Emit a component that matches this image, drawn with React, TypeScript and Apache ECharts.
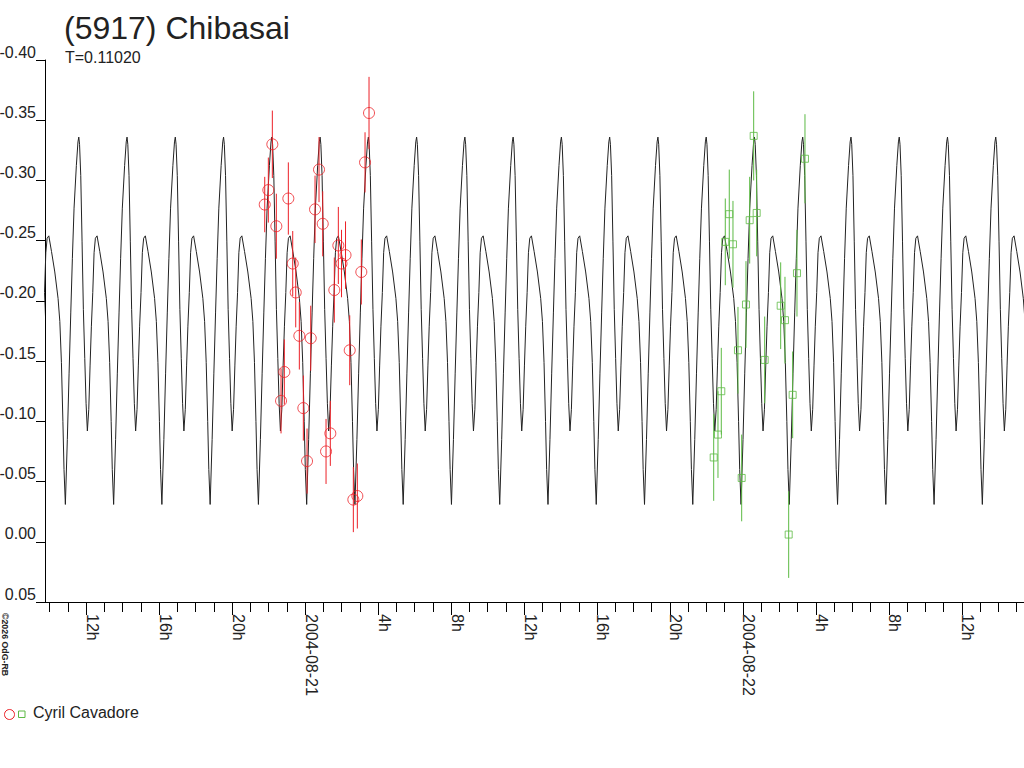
import React, { useEffect, useRef } from 'react';
import * as echarts from 'echarts';

const TITLE = '(5917) Chibasai';
const SUBTITLE = 'T=0.11020';
const OBSERVER = 'Cyril Cavadore';
const COPYRIGHT = '©2026 OdG-RB';
const DAY_LABELS: Record<number, string> = { 24: '2004-08-21', 48: '2004-08-22' };

// time axis in hours since 2004-08-20 00:00
const X_MIN = 9.75;
const X_MAX = 63.4;
const HOUR_TICKS = [10, 11, 12, 13, 14, 15, 16, 17, 18, 19, 20, 21, 22, 23, 24, 25, 26, 27, 28, 29, 30, 31, 32, 33, 34, 35, 36, 37, 38, 39, 40, 41, 42, 43, 44, 45, 46, 47, 48, 49, 50, 51, 52, 53, 54, 55, 56, 57, 58, 59, 60, 61, 62, 63];
const LABEL_HOURS = [12, 16, 20, 24, 28, 32, 36, 40, 44, 48, 52, 56, 60];

// magnitude axis (inverted)
const Y_MIN = -0.4;
const Y_MAX = 0.05;
const Y_STEP = 0.05;

// model light curve: one period
const PERIOD_H = 0.1102 * 24;
const EPOCH_H = 10.866; // a deep minimum
const SHAPE_PHASE = [0, 0.041, 0.077, 0.112, 0.145, 0.18, 0.228, 0.261, 0.278, 0.294, 0.319, 0.346, 0.373, 0.402, 0.429, 0.456, 0.485, 0.512, 0.539, 0.568, 0.595, 0.622, 0.657, 0.713, 0.781, 0.849, 0.885, 0.918, 0.949, 0.972];
const SHAPE_MAG = [-0.031, -0.085, -0.14, -0.19, -0.235, -0.277, -0.3125, -0.332, -0.336, -0.33, -0.304, -0.249, -0.193, -0.152, -0.115, -0.092, -0.11, -0.146, -0.179, -0.207, -0.24, -0.252, -0.254, -0.241, -0.224, -0.202, -0.183, -0.149, -0.1, -0.06];

// session 1 (red circles)
const RED_T = [21.792, 21.989, 22.208, 22.427, 22.685, 22.866, 23.085, 23.326, 23.49, 23.688, 23.907, 24.11, 24.312, 24.548, 24.767, 24.97, 25.151, 25.386, 25.605, 25.825, 26.0, 26.219, 26.449, 26.647, 26.866, 27.085, 27.288, 27.507];
const RED_MAG = [-0.28, -0.292, -0.33, -0.262, -0.117, -0.141, -0.285, -0.231, -0.207, -0.171, -0.111, -0.067, -0.169, -0.276, -0.309, -0.264, -0.075, -0.09, -0.209, -0.246, -0.231, -0.238, -0.159, -0.035, -0.038, -0.224, -0.315, -0.356];
const RED_ERR = [0.023, 0.027, 0.028, 0.027, 0.027, 0.027, 0.03, 0.027, 0.029, 0.028, 0.027, 0.027, 0.027, 0.028, 0.027, 0.027, 0.027, 0.027, 0.027, 0.032, 0.028, 0.028, 0.029, 0.027, 0.027, 0.027, 0.025, 0.03];

// session 2 (green squares)
const GREEN_T = [46.395, 46.63, 46.811, 47.03, 47.249, 47.452, 47.726, 47.929, 48.164, 48.367, 48.586, 48.751, 49.189, 50.066, 50.301, 50.504, 50.723, 50.959, 51.397];
const GREEN_MAG = [-0.07, -0.089, -0.125, -0.249, -0.272, -0.247, -0.159, -0.053, -0.197, -0.267, -0.337, -0.273, -0.151, -0.196, -0.184, -0.006, -0.122, -0.223, -0.318];
const GREEN_ERR = [0.036, 0.036, 0.036, 0.036, 0.037, 0.036, 0.036, 0.036, 0.036, 0.036, 0.037, 0.036, 0.036, 0.036, 0.036, 0.036, 0.036, 0.036, 0.037];

const RED = '#ec2027';
const GREEN = '#5cba44';
const INK = '#222222';
const FONT = '"Liberation Sans", Arial, sans-serif';

function buildCurve(): number[][] {
  const out: number[][] = [];
  const n0 = Math.floor((X_MIN - EPOCH_H) / PERIOD_H) - 1;
  const n1 = Math.ceil((X_MAX - EPOCH_H) / PERIOD_H) + 1;
  for (let n = n0; n <= n1; n++) {
    for (let i = 0; i < SHAPE_PHASE.length; i++) {
      out.push([EPOCH_H + (n + SHAPE_PHASE[i]) * PERIOD_H, SHAPE_MAG[i]]);
    }
  }
  return out;
}

function errorSeries(t: number[], m: number[], e: number[], color: string) {
  return {
    type: 'custom',
    xAxisIndex: 0,
    yAxisIndex: 0,
    silent: true,
    z: 3,
    data: t.map((x, i) => [x, m[i] - e[i], m[i] + e[i]]),
    renderItem: (_p: any, api: any) => {
      const a = api.coord([api.value(0), api.value(1)]);
      const b = api.coord([api.value(0), api.value(2)]);
      return {
        type: 'line',
        shape: { x1: a[0], y1: a[1], x2: b[0], y2: b[1] },
        style: { stroke: color, lineWidth: 1 },
      };
    },
  };
}

export default function App() {
  const ref = useRef<HTMLDivElement>(null);
  useEffect(() => {
    if (!ref.current) return;
    const chart = echarts.init(ref.current, undefined, { renderer: 'svg' });
    const fmtHour = (v: number) => {
      const r = Math.round(v);
      if (DAY_LABELS[r]) return DAY_LABELS[r];
      return `${r % 24}h`;
    };
    chart.setOption({
      animation: false,
      backgroundColor: '#ffffff',
      grid: { left: 45, right: 0, top: 60, bottom: 166, containLabel: false, outerBoundsMode: 'none' },
      xAxis: [
        {
          type: 'value',
          min: X_MIN,
          max: X_MAX,
          position: 'bottom',
          axisLine: { show: true, onZero: false, lineStyle: { color: '#000', width: 1 } },
          axisTick: { show: true, length: 10, customValues: HOUR_TICKS, lineStyle: { color: '#000', width: 1 } },
          axisLabel: { show: false },
          splitLine: { show: false },
        },
        {
          type: 'value',
          min: X_MIN,
          max: X_MAX,
          position: 'bottom',
          offset: 0,
          axisLine: { show: false, onZero: false },
          axisTick: { show: true, length: 13, customValues: LABEL_HOURS, lineStyle: { color: '#000', width: 1 } },
          axisLabel: {
            show: true,
            customValues: LABEL_HOURS,
            rotate: -90,
            align: 'left',
            verticalAlign: 'bottom',
            lineHeight: 12,
            margin: 12,
            fontSize: 16,
            fontFamily: FONT,
            color: INK,
            formatter: (v: number) => fmtHour(v),
          },
          splitLine: { show: false },
        },
      ],
      yAxis: {
        type: 'value',
        inverse: true,
        min: Y_MIN,
        max: Y_MAX,
        interval: Y_STEP,
        axisLine: { show: true, onZero: false, lineStyle: { color: '#000', width: 1 } },
        axisTick: { show: true, length: 9, lineStyle: { color: '#000', width: 1 } },
        axisLabel: {
          margin: 9,
          fontSize: 16,
          fontFamily: FONT,
          color: INK,
          verticalAlign: 'bottom',
          lineHeight: 16,
          formatter: (v: number) => (Math.abs(v) < 1e-9 ? '0.00' : v.toFixed(2)),
        },
        splitLine: { show: false },
      },
      series: [
        {
          type: 'line',
          data: buildCurve(),
          showSymbol: false,
          symbol: 'none',
          clip: true,
          silent: true,
          z: 2,
          lineStyle: { color: INK, width: 1 },
        },
        errorSeries(RED_T, RED_MAG, RED_ERR, RED),
        errorSeries(GREEN_T, GREEN_MAG, GREEN_ERR, GREEN),
        {
          type: 'scatter',
          data: RED_T.map((t, i) => [t, RED_MAG[i]]),
          symbol: 'circle',
          symbolSize: 11,
          z: 4,
          itemStyle: { color: 'rgba(0,0,0,0)', borderColor: RED, borderWidth: 1 },
        },
        {
          type: 'scatter',
          data: GREEN_T.map((t, i) => [t, GREEN_MAG[i]]),
          symbol: 'rect',
          symbolSize: 7,
          z: 4,
          itemStyle: { color: 'rgba(0,0,0,0)', borderColor: GREEN, borderWidth: 1 },
        },
      ],
      graphic: [
        {
          type: 'text',
          x: 64,
          y: 28,
          style: { text: TITLE, fontSize: 32, fontFamily: FONT, fill: INK, align: 'left', verticalAlign: 'middle' },
        },
        {
          type: 'text',
          x: 65,
          y: 57.5,
          style: { text: SUBTITLE, fontSize: 16, fontFamily: FONT, fill: INK, align: 'left', verticalAlign: 'middle' },
        },
        {
          type: 'text',
          x: 5,
          y: 613,
          rotation: -Math.PI / 2,
          style: { text: COPYRIGHT, fontSize: 8.8, fontWeight: 'bold', fontFamily: FONT, fill: INK, align: 'left', verticalAlign: 'middle' },
        },
        {
          type: 'circle',
          shape: { cx: 9.5, cy: 714.5, r: 5 },
          style: { fill: 'none', stroke: RED, lineWidth: 1 },
        },
        {
          type: 'rect',
          shape: { x: 18.5, y: 711, width: 6.5, height: 6.5 },
          style: { fill: 'none', stroke: GREEN, lineWidth: 1 },
        },
        {
          type: 'text',
          x: 33,
          y: 712.7,
          style: { text: OBSERVER, fontSize: 16, fontFamily: FONT, fill: INK, align: 'left', verticalAlign: 'middle' },
        },
      ],
    });
    return () => chart.dispose();
  }, []);
  return (
    <div
      ref={ref}
      style={{ position: 'fixed', left: 0, top: 0, width: 1024, height: 768, background: '#fff' }}
    />
  );
}
